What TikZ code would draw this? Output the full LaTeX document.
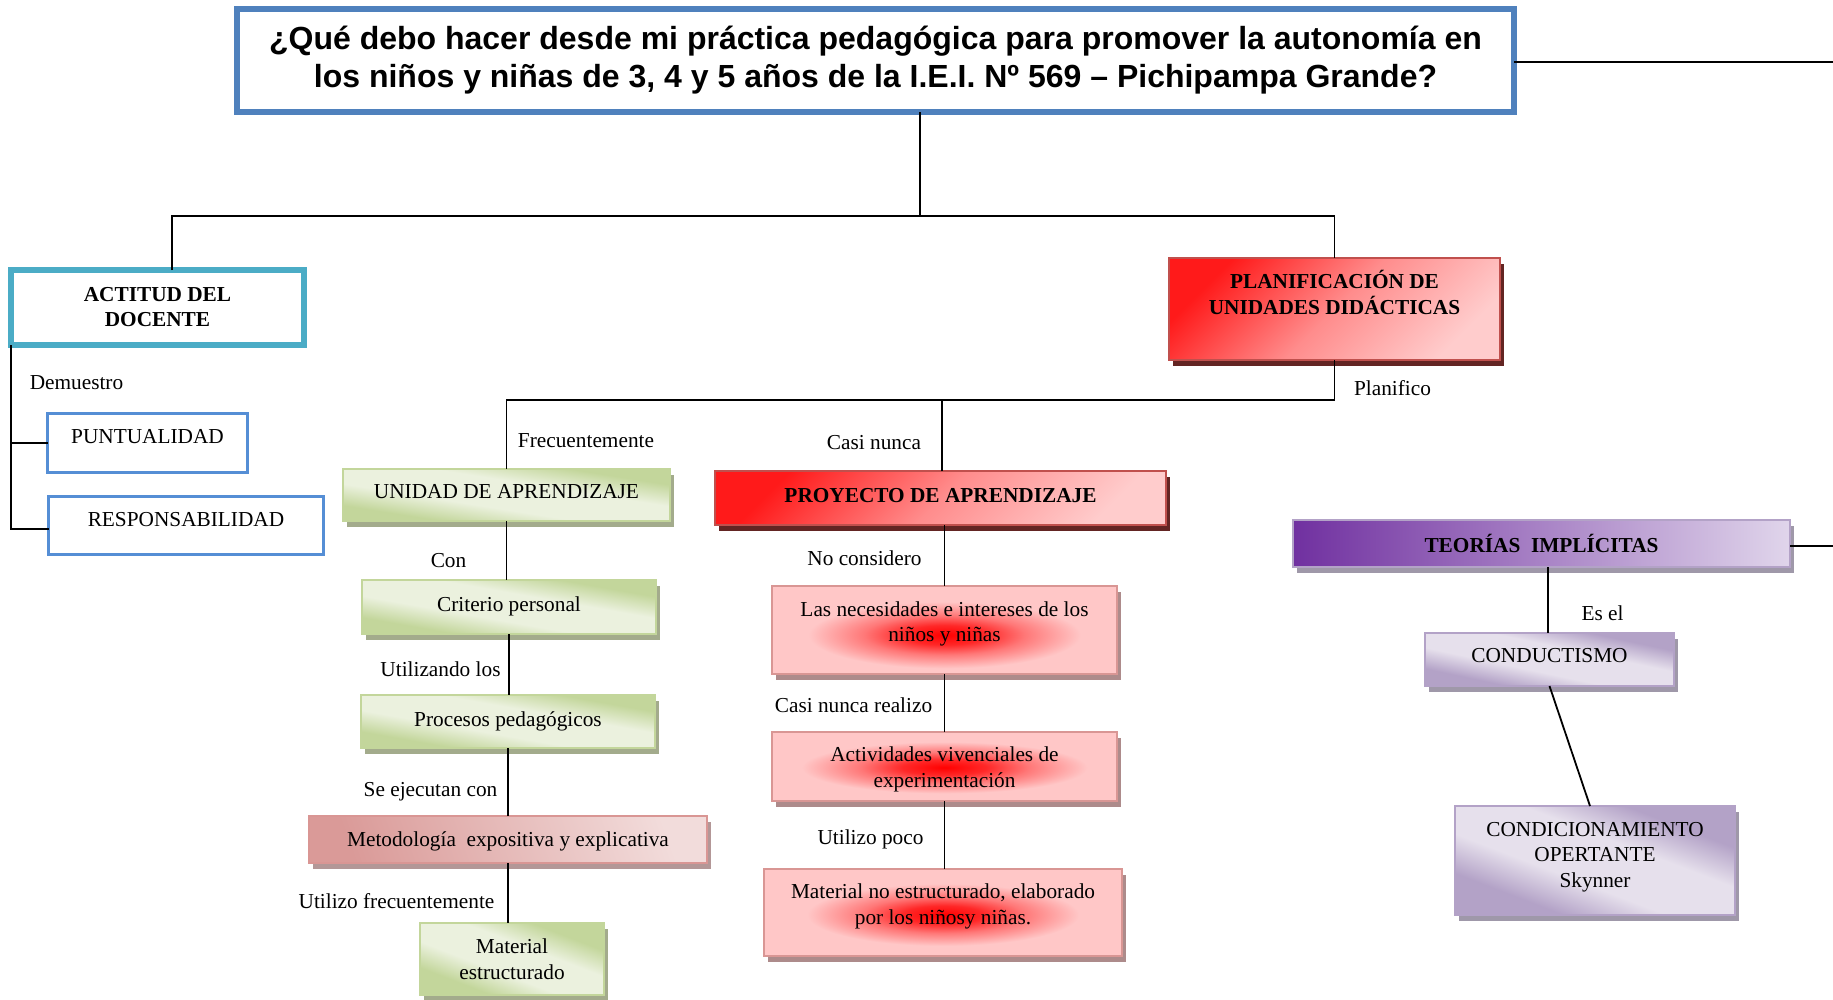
\documentclass[tikz,border=0pt]{standalone}
\usepackage{fontspec}
\setmainfont{Liberation Serif}
\newfontfamily\titlefont{Liberation Sans}
\usetikzlibrary{shadows,calc}
\definecolor{titleblue}{HTML}{4F81BD}
\definecolor{tealc}{HTML}{4BACC6}
\definecolor{blueb}{HTML}{558ED5}
\definecolor{redb}{HTML}{C0504D}
\definecolor{redtop}{HTML}{FF1A1A}
\definecolor{redmid}{HTML}{FF8C8C}
\definecolor{redlow}{HTML}{FFCCCC}
\definecolor{redsh}{HTML}{632523}
\definecolor{pinkfill}{HTML}{FFC7C7}
\definecolor{pinkb}{HTML}{D99694}
\definecolor{pinksh}{HTML}{AD8B8B}
\definecolor{greend}{HTML}{C3D69B}
\definecolor{greenl}{HTML}{EBF1DE}
\definecolor{greenb}{HTML}{C3D69B}
\definecolor{greensh}{HTML}{A3AB8C}
\definecolor{metd}{HTML}{DA9A98}
\definecolor{metl}{HTML}{F2DCDB}
\definecolor{metsh}{HTML}{B39797}
\definecolor{purd}{HTML}{B3A2C7}
\definecolor{purl}{HTML}{E6E0EC}
\definecolor{pursh}{HTML}{9F98A9}
\definecolor{purdeep}{HTML}{7030A0}
\definecolor{purpale}{HTML}{E0D5EB}
\colorlet{glowa}{red!80!pinkfill}
\colorlet{glowb}{red!40!pinkfill}
\pgfdeclareverticalshading{gband}{100bp}{color(0bp)=(greend); color(30bp)=(greend); color(42bp)=(greenl); color(58bp)=(greenl); color(70bp)=(greend); color(100bp)=(greend)}
\pgfdeclareverticalshading{pband}{100bp}{color(0bp)=(purd); color(30bp)=(purd); color(42bp)=(purl); color(58bp)=(purl); color(70bp)=(purd); color(100bp)=(purd)}
\pgfdeclareradialshading{glowsh}{\pgfpoint{0bp}{0bp}}{color(0bp)=(red); color(5bp)=(glowa); color(10bp)=(glowb); color(17bp)=(pinkfill); color(50bp)=(pinkfill)}
\newcommand{\upbox}[2]{\raisebox{0pt}[\height][\dimexpr\depth+#1+#1\relax]{\begin{tabular}{@{}c@{}}#2\end{tabular}}}
\newcommand{\dnbox}[2]{\raisebox{0pt}[\dimexpr\height+#1+#1\relax][\depth]{\begin{tabular}{@{}c@{}}#2\end{tabular}}}
\newcommand{\upone}[2]{\raisebox{0pt}[\height][\dimexpr\depth+#1+#1\relax]{#2}}
\newcommand{\dnone}[2]{\raisebox{0pt}[\dimexpr\height+#1+#1\relax][\depth]{#2}}
\begin{document}
\begin{tikzpicture}[x=1pt,y=-1pt,
 every node/.style={inner sep=0pt, outer sep=0pt, align=center, font=\fontsize{21.3}{25.5}\selectfont},
 conn/.style={line width=1.8pt, black},
 shadowed/.style={general shadow={fill=#1, shadow xshift=4pt, shadow yshift=-6pt}},
 titlebox/.style={draw=titleblue, line width=6pt, font=\titlefont\bfseries\fontsize{32}{38}\selectfont},
 tealbox/.style={draw=tealc, line width=6.5pt, font=\bfseries\fontsize{21.3}{25.5}\selectfont},
 bluebox/.style={draw=blueb, line width=3pt},
 redbox/.style={draw=redb, line width=2pt, top color=redtop, bottom color=redlow, middle color=redmid, shading angle=45, shadowed=redsh, font=\bfseries\fontsize{21.3}{25.5}\selectfont},
 glowbox/.style n args={3}{draw=pinkb, line width=2pt, fill=pinkfill, shadowed=pinksh, path picture={\shade[shading=glowsh] ($(path picture bounding box.center)+(0,#1)$) ellipse [x radius=#2, y radius=#3];}},
 greenbox/.style={draw=greenb, line width=2pt, shading=gband, shading angle=#1, shadowed=greensh},
 greenbox/.default=-10,
 metbox/.style={draw=pinkb, line width=2pt, top color=metl, bottom color=metd, shading angle=-70, shadowed=metsh},
 purbox/.style={draw=purd, line width=2pt, shading=pband, shading angle=#1, shadowed=pursh},
 purbox/.default=-12,
 teobox/.style={draw=purd, line width=2pt, left color=purdeep, right color=purpale, shadowed=pursh, font=\bfseries\fontsize{21.3}{25.5}\selectfont}
]
\useasboundingbox (0,0) rectangle (1833,999);
\node[titlebox, minimum width=1277pt, minimum height=103pt] (title) at (875.5,60.5) {¿Qué debo hacer desde mi práctica pedagógica para promover la autonomía en\\los niños y niñas de 3, 4 y 5 años de la I.E.I. Nº 569 – Pichipampa Grande?};

\node[tealbox, minimum width=293pt, minimum height=75pt] (actitud) at (157.5,307.5) {\dnbox{1.5pt}{ACTITUD DEL\\DOCENTE}};
\node[bluebox, minimum width=200pt, minimum height=59pt] (punt) at (147.5,443) {\upone{6.5pt}{PUNTUALIDAD}};
\node[bluebox, minimum width=275pt, minimum height=58pt] (resp) at (186,525.5) {\upone{5.5pt}{RESPONSABILIDAD}};
\node (demuestro) at (76.5,383) {Demuestro};

\node[redbox, minimum width=331pt, minimum height=102pt] (planif) at (1334.5,309) {\upbox{13pt}{PLANIFICACIÓN DE\\UNIDADES DIDÁCTICAS}};
\node (planifico) at (1392.5,388) {Planifico};

\node[greenbox=-9, minimum width=327pt, minimum height=52pt] (unidad) at (506.5,495) {\upone{3.3pt}{UNIDAD DE APRENDIZAJE}};
\node (frec) at (586,441) {Frecuentemente};
\node[redbox, minimum width=451pt, minimum height=54pt] (proyecto) at (940.5,498) {\upone{2.5pt}{PROYECTO DE APRENDIZAJE}};
\node (casinunca) at (874,443) {Casi nunca};

\node (con) at (448.5,561) {Con};
\node[greenbox, minimum width=294pt, minimum height=54pt] (criterio) at (509,607) {\upone{1pt}{Criterio personal}};
\node (utilizando) at (440.5,669) {Utilizando los};
\node[greenbox, minimum width=294pt, minimum height=53pt] (procesos) at (508,721.5) {Procesos pedagógicos};
\node (seejec) at (430.5,792) {Se ejecutan con};
\node[metbox, minimum width=398pt, minimum height=47pt] (metodo) at (508,839.5) {\dnone{2.3pt}{Metodología\ \ expositiva y explicativa}};
\node (utilfrec) at (396.5,901) {Utilizo frecuentemente};
\node[greenbox=-21, minimum width=184pt, minimum height=72pt] (matest) at (512,959) {Material\\estructurado};

\node (nocons) at (864.5,558) {No considero};
\node[glowbox={10}{200pt}{44pt}, minimum width=345pt, minimum height=88pt] (neces) at (944.5,630) {\upbox{6pt}{Las necesidades e intereses de los\\niños y niñas}};
\node (casireal) at (853.5,705) {Casi nunca realizo};
\node[glowbox={1}{210pt}{38pt}, minimum width=345pt, minimum height=69pt] (activ) at (944.5,766.5) {\dnbox{3pt}{Actividades vivenciales de\\experimentación}};
\node (utilpoco) at (870.5,839.5) {Utilizo poco};
\node[glowbox={8}{200pt}{40pt}, minimum width=358pt, minimum height=87pt] (matno) at (943,912.5) {\upbox{6pt}{Material no estructurado, elaborado\\por los niñosy niñas.}};

\node[teobox, minimum width=497pt, minimum height=47pt] (teorias) at (1541.5,543.5) {TEORÍAS\ \ IMPLÍCITAS};
\node (esel) at (1602.5,613) {Es el};
\node[purbox, minimum width=249pt, minimum height=53pt] (conduct) at (1549.5,659.5) {\upone{3.8pt}{CONDUCTISMO}};
\node[purbox=-21, minimum width=280pt, minimum height=109pt] (condic) at (1595,860.5) {\upbox{4pt}{CONDICIONAMIENTO\\OPERTANTE\\Skynner}};

\coordinate (hub) at (920,216);
\coordinate (hubb) at (1334,400);
\coordinate (rtop) at (1833,62);
\coordinate (rteo) at (1833,546);
\draw[conn] (title.east |- rtop) -- (rtop);
\draw[conn] (title.south -| hub) -- (hub);
\draw[conn] ([xshift=14.5pt]actitud.north) |- (hub) -| (planif.north);
\draw[conn] (actitud.south west) |- ([yshift=-3.5pt]resp.west);
\draw[conn] (actitud.south west |- punt.west) -- (punt.west);
\draw[conn] (planif.south) -- (planif.south |- hubb) -| (unidad.north);
\draw[conn] ([xshift=1.5pt]proyecto.north) -- ([xshift=1.5pt]proyecto.north |- hubb);
\draw[conn] (unidad.south) -- (unidad.south |- criterio.north);
\draw[conn] (criterio.south) -- (criterio.south |- procesos.north);
\draw[conn] (procesos.south) -- (procesos.south |- metodo.north);
\draw[conn] (metodo.south) -- (metodo.south |- matest.north);
\draw[conn] (neces.north |- proyecto.south) -- (neces.north);
\draw[conn] (neces.south) -- (neces.south |- activ.north);
\draw[conn] (activ.south) -- (activ.south |- matno.north);
\draw[conn] ([yshift=-2.5pt]teorias.east) -- (rteo);
\draw[conn] ([xshift=6.5pt]teorias.south) -- ([xshift=6.5pt]teorias.south |- conduct.north);
\draw[conn] (conduct.south) -- ([xshift=-5pt]condic.north);
\end{tikzpicture}
\end{document}
